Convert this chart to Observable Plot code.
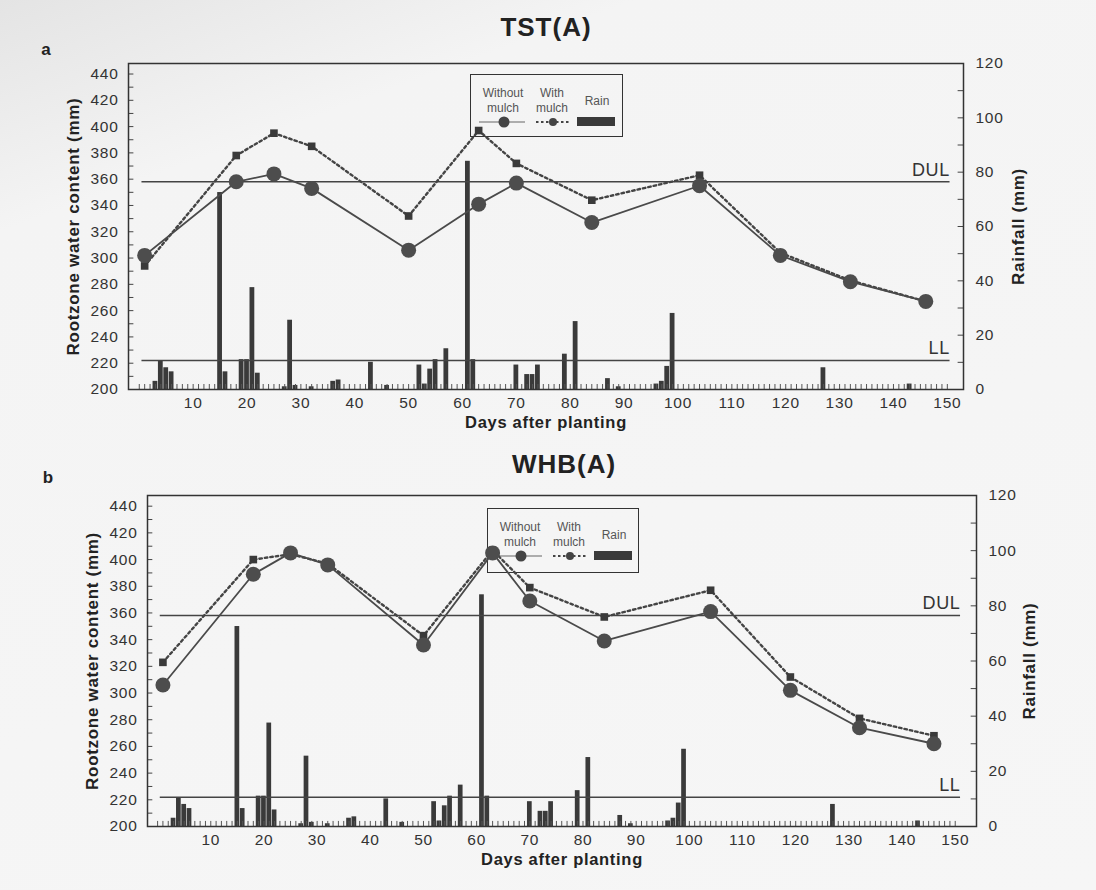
<!DOCTYPE html>
<html><head><meta charset="utf-8">
<script src="https://cdn.jsdelivr.net/npm/d3@7"></script>
<script src="https://cdn.jsdelivr.net/npm/@observablehq/plot@0.6"></script>
<style>
body{margin:0;background:#f3f3f3;font-family:"Liberation Sans",Arial,sans-serif;}
#page{position:relative;width:1096px;height:890px;overflow:hidden;background:linear-gradient(160deg,#e4e4e4 0%,#f4f4f4 18%,#f6f6f6 100%);}
.title{position:absolute;font-weight:bold;font-size:26px;letter-spacing:1px;color:#222;transform:translate(-50%,-50%);white-space:nowrap;}
.tag{position:absolute;font-weight:bold;font-size:17px;color:#222;transform:translate(-50%,-50%);}
.legend{position:absolute;border:1.5px solid #333;box-sizing:border-box;}
.legend text{font-family:"Liberation Sans",Arial,sans-serif;font-size:12px;fill:#555;}
.plotwrap{position:absolute;left:0;}
.plotwrap svg text{letter-spacing:0.7px;}
</style></head><body><div id="page"></div>
<script>
// ---- data ----
const sampleDays = [1, 18, 25, 32, 50, 63, 70, 84, 104, 119, 132, 146];
const tstWithout = [302, 358, 364, 353, 306, 341, 357, 327, 355, 302, 282, 267];
const tstWith    = [294, 378, 395, 385, 332, 397, 372, 344, 363, 304, 283, 267];
const whbWithout = [306, 389, 405, 396, 336, 405, 369, 339, 361, 302, 274, 262];
const whbWith    = [323, 400, 404, 397, 343, 407, 379, 357, 377, 312, 281, 268];
const rainDays = [3, 4, 5, 6, 15, 16, 19, 20, 21, 22, 27, 28, 29, 32, 36, 37, 43, 46, 52, 53, 54, 55, 57, 61, 62, 70, 72, 73, 74, 79, 81, 87, 89, 96, 97, 98, 99, 127, 143];
const rainMm   = [3, 10.5, 8, 6.5, 72.5, 6.5, 11, 11, 37.5, 6, 1, 25.5, 1.5, 1, 3, 3.5, 10, 1.5, 9, 2, 7.5, 11, 15, 84, 11, 9, 5.5, 5.5, 9, 13, 25, 4, 1, 2, 3, 8.5, 28, 8, 2];
const xTicks = [10, 20, 30, 40, 50, 60, 70, 80, 90, 100, 110, 120, 130, 140, 150];
const waterTicks = [200, 220, 240, 260, 280, 300, 320, 340, 360, 380, 400, 420, 440];
const rainTicks = [0, 20, 40, 60, 80, 100, 120];
const DUL = 358, LL = 222;
const titles = ["TST(A)", "WHB(A)"];
const tags = ["a", "b"];

const Y0 = 200, Y1 = 448;
const toW = r => Y0 + r * (Y1 - Y0) / 120;
const fromW = w => (w - Y0) * 120 / (Y1 - Y0);

const page = document.getElementById("page");

function panel(o) {
  const rain = rainDays.map((d, i) => ({day: d, w: toW(rainMm[i])}));
  const s1 = sampleDays.map((d, i) => ({day: d, v: o.without[i]}));
  const s2 = sampleDays.map((d, i) => ({day: d, v: o.withM[i]}));
  const minor = d3.range(0, 151);
  const wMinor = d3.range(200, 441, 10);
  const rMinor = d3.range(0, 121, 10).map(toW);
  const [xa, xb] = o.xDomain;
  const font = "Liberation Sans, Arial, sans-serif";
  return Plot.plot({
    width: 1096, height: o.height,
    marginLeft: o.mL, marginRight: o.mR, marginTop: o.mT, marginBottom: o.mB,
    style: {background: "transparent", fontFamily: font, fontSize: "15px", color: "#333", overflow: "visible"},
    x: {domain: o.xDomain, axis: null},
    y: {domain: [Y0, Y1], axis: null},
    marks: [
      Plot.rectY(rain, {x1: d => d.day - 0.5, x2: d => d.day + 0.5, y1: Y0, y2: "w", fill: "#3a3a3a", insetLeft: 0.3, insetRight: 0.3}),
      Plot.ruleX(minor, {x: d => d, y1: Y0, y2: Y0 + 3.8, stroke: "#555", strokeWidth: 1}),
      Plot.ruleY(wMinor, {y: d => d, x1: xa, x2: xa + 1, stroke: "#444"}),
      Plot.ruleY(rMinor, {y: d => d, x1: xb - 1, x2: xb, stroke: "#444"}),
      Plot.ruleY([DUL, LL], {y: d => d, x1: 0.5, x2: o.lineEnd, stroke: "#444", strokeWidth: 1.5}),
      Plot.text(["DUL"], {text: d => d, x: o.lineEnd, y: DUL, dy: -12, textAnchor: "end", fontSize: 18, fill: "#333"}),
      Plot.text(["LL"], {text: d => d, x: o.lineEnd, y: LL, dy: -12, textAnchor: "end", fontSize: 18, fill: "#333"}),
      Plot.line(s2, {x: "day", y: "v", stroke: "#444", strokeWidth: 2.4, strokeDasharray: "2.5,3"}),
      Plot.dot(s2, {x: "day", y: "v", symbol: "square", r: 4.3, fill: "#3a3a3a", stroke: "none"}),
      Plot.line(s1, {x: "day", y: "v", stroke: "#4a4a4a", strokeWidth: 1.8}),
      Plot.dot(s1, {x: "day", y: "v", r: 7.5, fill: "#4d4d4d", stroke: "none"}),
      Plot.frame({stroke: "#333", strokeWidth: 1.5}),
      Plot.axisX(xTicks, {tickSize: 0, tickPadding: 7, fontSize: 15.5, color: "#333", label: null}),
      Plot.axisY(waterTicks, {anchor: "left", tickSize: 0, tickPadding: 10, fontSize: 15.5, color: "#333", label: null}),
      Plot.axisY(rainTicks.map(toW), {anchor: "right", tickSize: 0, tickPadding: 12, fontSize: 15.5, color: "#333", label: null, tickFormat: w => String(Math.round(fromW(w)))}),
      Plot.text(["Rootzone water content (mm)"], {text: d => d, frameAnchor: "left", textAnchor: "middle", dx: -55, rotate: -90, fontWeight: "bold", fontSize: 17, fill: "#222"}),
      Plot.text(["Rainfall (mm)"], {text: d => d, frameAnchor: "right", textAnchor: "middle", dx: o.rdx, rotate: -90, fontWeight: "bold", fontSize: 17, fill: "#222"}),
      Plot.text(["Days after planting"], {text: d => d, frameAnchor: "bottom", textAnchor: "middle", dy: o.xdy, fontWeight: "bold", fontSize: 16.5, fill: "#222"})
    ]
  });
}

function legend(left, top, w, h) {
  const div = document.createElement("div");
  div.className = "legend";
  div.style.left = left + "px"; div.style.top = top + "px";
  div.style.width = w + "px"; div.style.height = h + "px";
  div.innerHTML = `<svg width="${w}" height="${h}" style="position:absolute;left:-1.5px;top:-1.5px">
    <text x="33" y="23" text-anchor="middle">Without</text>
    <text x="33" y="38" text-anchor="middle">mulch</text>
    <text x="82" y="23" text-anchor="middle">With</text>
    <text x="82" y="38" text-anchor="middle">mulch</text>
    <text x="127" y="31" text-anchor="middle">Rain</text>
    <line x1="9" x2="55" y1="48" y2="48" stroke="#666" stroke-width="1.2"/>
    <circle cx="34" cy="48" r="5.5" fill="#444"/>
    <line x1="66" x2="100" y1="48" y2="48" stroke="#444" stroke-width="2" stroke-dasharray="2.5,2.5"/>
    <circle cx="83" cy="48" r="4" fill="#444"/>
    <rect x="107" y="43" width="38" height="9" fill="#3a3a3a"/>
  </svg>`;
  page.appendChild(div);
}

const cfgs = [
  {top: 0, height: 430, mL: 128, mR: 133, mT: 63, mB: 41, xDomain: [-2, 153], lineEnd: 150.5, rdx: 55, xdy: 38, without: tstWithout, withM: tstWith,
   legend: [470, 74, 153, 63], title: [546, 27], tag: [46, 50]},
  {top: 440, height: 450, mL: 147, mR: 120, mT: 55, mB: 64, xDomain: [-1.9, 154], lineEnd: 151, rdx: 53, xdy: 38, without: whbWithout, withM: whbWith,
   legend: [487, 508, 152, 65], title: [564, 464], tag: [48, 478]}
];

cfgs.forEach((c, i) => {
  legend(...c.legend);
  const wrap = document.createElement("div");
  wrap.className = "plotwrap";
  wrap.style.top = c.top + "px";
  wrap.appendChild(panel(c));
  page.appendChild(wrap);
  const t = document.createElement("div");
  t.className = "title"; t.textContent = titles[i];
  t.style.left = c.title[0] + "px"; t.style.top = c.title[1] + "px";
  page.appendChild(t);
  const g = document.createElement("div");
  g.className = "tag"; g.textContent = tags[i];
  g.style.left = c.tag[0] + "px"; g.style.top = c.tag[1] + "px";
  page.appendChild(g);
});
</script></body></html>
